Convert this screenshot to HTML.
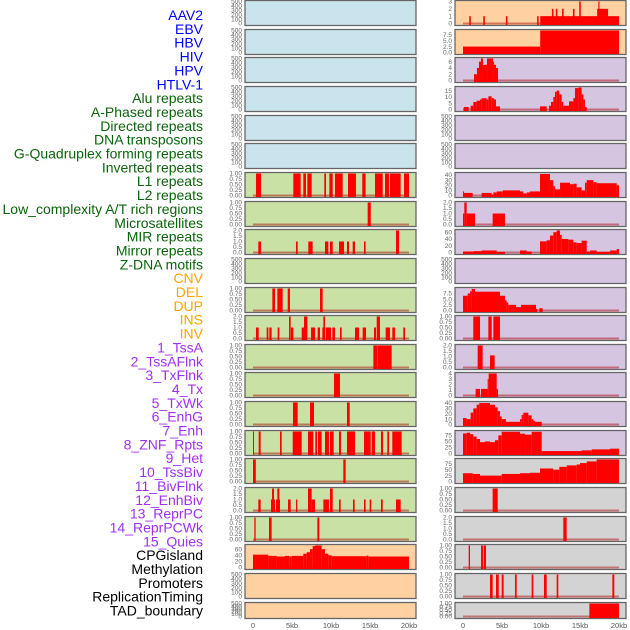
<!DOCTYPE html>
<html><head><meta charset="utf-8"><style>
html,body{margin:0;padding:0;background:#fff;width:630px;height:630px;overflow:hidden}
svg{display:block}
</style></head><body>
<svg id="chart" width="630" height="630" xmlns="http://www.w3.org/2000/svg"></svg>
<script>
const labels=["AAV2","EBV","HBV","HIV","HPV","HTLV-1","Alu repeats","A-Phased repeats","Directed repeats","DNA transposons","G-Quadruplex forming repeats","Inverted repeats","L1 repeats","L2 repeats","Low_complexity A/T rich regions","Microsatellites","MIR repeats","Mirror repeats","Z-DNA motifs","CNV","DEL","DUP","INS","INV","1_TssA","2_TssAFlnk","3_TxFlnk","4_Tx","5_TxWk","6_EnhG","7_Enh","8_ZNF_Rpts","9_Het","10_TssBiv","11_BivFlnk","12_EnhBiv","13_ReprPC","14_ReprPCWk","15_Quies","CPGisland","Methylation","Promoters","ReplicationTiming","TAD_boundary"];
const labelGroups=[0,0,0,0,0,0,1,1,1,1,1,1,1,1,1,1,1,1,1,2,2,2,2,2,3,3,3,3,3,3,3,3,3,3,3,3,3,3,3,4,4,4,4,4];
const xTicks=["0","5kb","10kb","15kb","20kb"];
const xTickVals=[0,5,10,15,20];
const E=["0","100","200","300","400","500"],B=["0.00","0.25","0.50","0.75","1.00"],T2=["0.0","0.5","1.0","1.5","2.0"];
const midTicks=[E,E,E,E,E,E,B,B,T2,E,B,T2,B,B,B,B,B,T2,B,["0","20","40","60"],E,E];
const midMax=[500,500,500,500,500,500,1,1,2,500,1,2,1,1,1,1,1,2,1,72,500,500];
const rightTicks=[["0","1","2","3"],["0.0","2.5","5.0","7.5"],["0","2","4","6"],["0","5","10","15"],E,E,["0","10","20","30","40"],T2,["0","20","40","60"],E,["0.0","2.5","5.0","7.5"],B,T2,["0","1","2","3","4"],["0","10","20","30","40"],["0","25","50","75"],["0","25","50","75"],B,T2,B,B,B];
const rightMax=[3,9.3,7,17.5,500,500,43,2,65,500,9.7,1,2,4,41,91,93,1,2,1,1,1];
const midBg=["b","b","b","b","b","b","g","g","g","g","g","g","g","g","g","g","g","g","g","o","o","o"];
const rightBg=["o","o","p","p","p","p","p","p","p","p","p","p","p","p","p","p","y","y","y","y","y","y"];
const midData=[[],[],[],[],[],[],
[[0.38,1.03,1],[5.17,6.11,1],[6.45,6.79,1],[6.97,7.52,1],[9.14,9.36,1],[9.79,10.22,1],[10.51,11.5,1],[12.18,13.2,1],[14.01,14.44,1],[15.64,16.63,1],[16.92,17.44,1],[17.56,18.93,1],[19.36,20,1]],
[[14.7,15.1,1]],
[[0.68,1.03,1],[5.51,5.73,1],[7.09,7.65,1],[9.23,9.66,1],[9.87,10.22,1],[11.03,11.67,1],[12.05,12.31,1],[12.78,13.08,1],[14.23,14.44,1],[18.33,18.72,2]],
[],
[[2.48,2.82,1],[3.12,3.8,1],[4.45,4.74,1],[8.59,8.93,1]],
[[0.38,0.73,1],[1.75,1.97,1],[2.09,2.39,1],[3.16,3.38,1],[4.62,4.83,2],[4.87,5.17,1],[6.24,6.54,1],[6.54,6.97,2],[7.44,7.95,1],[8.29,8.59,1],[8.89,9.1,1],[9.02,9.23,2],[9.32,10.0,1],[10.17,10.51,1],[11.15,11.37,1],[13.08,13.59,1],[14.06,14.49,1],[15.51,15.77,1],[15.86,16.28,2],[17.01,17.56,1],[17.86,18.2,1],[19.27,19.49,1]],
[[15.43,15.94,1],[15.98,17.78,1]],
[[10.38,11.15,1]],
[[5.13,5.73,1],[7.31,7.82,1],[12.05,12.4,1]],
[[0,0.13,1],[0.73,0.98,1],[3.46,3.68,1],[5.09,6.24,1],[7.05,7.74,1],[7.99,8.21,1],[8.33,8.8,1],[9.23,9.74,1],[9.87,10.34,1],[11.03,11.28,1],[12.05,13.08,1],[14.23,15.09,1],[15.21,15.64,1],[16.41,16.67,1],[17.22,17.44,1],[17.86,19.06,1]],
[[0,0.36,1],[11.58,11.88,1]],
[[0.68,0.98,1],[2.31,2.82,1],[2.44,2.69,2],[2.95,3.46,1],[3.12,3.38,2],[4.49,4.83,1],[5.51,5.68,1],[7.05,7.52,2],[7.52,7.95,1],[9.02,9.74,1],[9.87,10.22,2],[11.03,11.24,1],[12.82,13.03,1],[14.23,14.44,1],[14.96,15.17,1],[16.41,16.63,1],[18.33,18.93,1]],
[[0.17,0.34,1],[2.05,2.39,1],[8.25,8.5,1]],
[[0,1.97,42],[1.97,3.03,38],[3.03,4.1,36],[4.1,4.66,38],[4.66,4.96,36],[4.96,6.45,38],[6.45,6.88,45],[6.88,7.31,50],[7.31,7.65,60],[7.65,7.95,70],[7.95,8.8,72],[8.8,9.23,60],[9.23,9.66,45],[9.66,10.09,40],[10.09,14.57,37],[14.57,14.79,39],[14.79,20,36]],
[],[]];
const rightData=[
[[0.8,1.0,1],[2.6,2.8,1],[5.5,5.7,1],[9.5,9.7,1],[9.9,20,1],[11.4,11.6,2],[11.9,12.1,2],[12.7,12.9,2],[14.1,14.3,2],[14.9,15.1,3],[17.2,18.6,2],[17.35,17.5,3]],
[[0,9.9,2.5],[9.9,20,9.3]],
[[1.41,1.79,2],[1.79,2.05,4],[2.05,2.31,6],[2.31,2.56,7],[2.56,3.08,5],[3.08,3.85,7],[3.85,3.97,6],[3.97,4.23,5],[4.23,4.49,4]],
[[0.09,0.73,2],[0.98,1.32,3],[1.32,1.75,6],[1.75,2.18,7],[2.18,2.39,8],[2.39,3.03,9],[3.03,3.25,8],[3.25,3.68,10.5],[3.68,3.97,9],[3.97,4.23,8],[4.23,4.74,2.5],[9.87,10.73,2.5],[11.03,11.28,3],[11.28,11.58,6],[11.58,11.79,10],[11.79,12.01,14],[12.01,12.35,15],[12.35,12.65,12],[12.65,12.86,6],[12.86,13.59,3],[13.59,14.15,6.5],[14.15,14.36,9],[14.36,14.79,17],[14.79,15.21,17.5],[15.21,15.43,12],[15.43,15.64,8],[15.64,15.86,2]],
[],[],
[[0,0.04,8],[0.04,1.24,5],[2.39,3.68,5],[3.68,3.89,2],[3.89,4.32,6],[4.32,5.09,8],[5.09,7.31,10],[7.31,7.74,8],[7.74,8.16,4],[8.16,8.59,6],[8.59,9.87,8],[9.87,11.15,42],[11.15,11.58,30],[11.58,11.79,18],[11.79,12.44,12],[12.44,13.72,25],[13.72,14.15,22],[14.15,14.57,23],[14.57,15.21,16],[15.21,15.64,10],[15.64,15.86,25],[15.86,16.71,30],[16.71,17.14,26],[17.14,19.7,24],[19.7,20,20]],
[[0,0.17,1],[0.17,0.47,2],[0.47,1.54,1],[3.8,5.38,1]],
[[0,1.32,3],[1.32,2.39,4],[2.39,4.32,6],[4.32,5.38,2],[7.31,8.16,6],[8.16,8.8,3],[9.87,10.73,33],[10.73,11.15,36],[11.15,11.58,50],[11.58,12.01,60],[12.01,12.44,65],[12.44,12.65,52],[12.65,13.5,40],[13.5,14.15,38],[14.15,14.57,30],[14.57,15.21,28],[15.21,15.86,35],[15.86,16.28,3],[16.28,17.14,6],[17.14,18.85,2],[18.85,19.7,6],[19.7,20,10]],
[],
[[0,0.6,6.5],[0.6,0.9,7.5],[0.9,1.11,8.5],[1.11,1.54,9.5],[1.54,4.74,8.3],[4.74,5.38,6.5],[5.38,5.6,4.5],[5.6,5.81,3.5],[5.81,6.79,2.5],[6.79,7.44,1.5],[7.44,9.36,2.5],[9.36,9.53,0.7],[9.79,10.21,1]],
[[1.32,2.18,1],[3.25,3.68,1],[3.89,4.74,1]],
[[1.88,2.52,2],[3.46,4.06,1.1]],
[[1.62,2.18,1.2],[2.31,3.16,1.2],[3.16,3.29,3],[3.29,4.32,4],[4.32,4.49,1.2]],
[[0,0.47,12],[0.47,0.98,10],[0.98,1.32,22],[1.32,1.75,30],[1.75,2.09,37],[2.09,3.46,40],[3.46,4.1,37],[4.1,4.45,32],[4.45,4.74,25],[4.74,4.96,15],[4.96,5.51,10],[5.51,7.31,5],[7.31,7.52,10],[7.52,7.74,18],[7.74,8.38,22],[8.38,8.8,17],[8.8,9.02,10],[9.02,9.23,7],[9.23,10.09,5]],
[[0,0.47,83],[0.47,0.9,86],[0.9,1.32,80],[1.32,1.75,70],[1.75,2.18,60],[2.18,2.82,47],[2.82,3.46,50],[3.46,4.1,47],[4.1,4.53,55],[4.53,4.96,75],[4.96,7.31,90],[7.31,7.95,82],[7.95,8.8,78],[8.8,10.09,90],[10.09,15.21,10],[15.21,16.5,13],[16.5,18.85,17],[18.85,20,20]],
[[0,1.24,35],[1.24,2.18,32],[2.18,4.96,25],[4.96,7.31,32],[7.31,8.59,35],[8.59,9.87,37],[9.87,11.58,55],[11.58,12.35,50],[12.35,13.29,62],[13.29,14.57,68],[14.57,15.0,72],[15.0,15.86,78],[15.86,17.14,85],[17.14,20,93]],
[[3.8,4.45,1]],
[[12.86,13.29,2]],
[[0.73,0.9,1],[2.31,2.56,1],[2.65,2.95,1]],
[[3.46,3.8,1],[4.23,4.58,1],[4.96,5.21,1],[6.67,6.88,1],[8.8,9.02,1],[10.38,10.73,1],[12.01,12.22,1],[19.15,19.4,1]],
[[16.2,20,1]]];

const NS="http://www.w3.org/2000/svg";
const svg=document.getElementById("chart");
const bgColors={b:"#c9e4ec",g:"#c9e1a5",o:"#ffd1a1",p:"#d5c5e1",y:"#d3d3d3"};
const labelColors=["#0000ff","#0a640a","#ffa500","#a030f0","#000000"];
function mk(tag,attrs){const e=document.createElementNS(NS,tag);for(const k in attrs)e.setAttribute(k,attrs[k]);svg.appendChild(e);return e;}
function rowTop(i){return Math.round(i*28.65);}
function rowH(i){return i===21?16:25;}
function xs(col,kb){return (col===0?253:463)+kb*7.8;}

labels.forEach((t,i)=>{
  const e=mk("text",{x:203,y:15+i*13.85+5,"text-anchor":"end","font-family":"Liberation Sans, sans-serif","font-size":"14",fill:labelColors[labelGroups[i]]});
  e.textContent=t;
  
  
});

function panel(col,i,bg,ticks,ymax,data){
  const left=col===0?245:455,w=171,top=rowTop(i),h=rowH(i);
  const r=mk("rect",{x:left,y:top+0.5,width:w,height:h,fill:bgColors[bg],stroke:"#666","stroke-width":1.3});
  
  
  const y0=top+h-1.5, span=h-3;
  const ys=v=>y0-v/ymax*span;
  ticks.forEach(t=>{
    const tx=mk("text",{x:left-3,y:ys(parseFloat(t))+2.2,"text-anchor":"end","font-family":"Liberation Sans, sans-serif","font-size":"6.5",fill:"#666"});
    tx.textContent=t;
    
    
  });
  if(data.length){
    const bl=mk("line",{x1:xs(col,0),x2:xs(col,20),y1:y0,y2:y0,stroke:"rgba(170,0,0,0.45)","stroke-width":2});
    
    
  }
  data.forEach(d=>{
    const x1=xs(col,d[0]),x2=xs(col,d[1]),yv=Math.max(top+1,ys(d[2]));
    const b=mk("rect",{x:x1,y:yv,width:Math.max(1,x2-x1),height:top+h-yv,fill:"#ff0000"});
    
    
  });
}
for(let i=0;i<22;i++){
  panel(0,i,midBg[i],midTicks[i],midMax[i],midData[i]);
  panel(1,i,rightBg[i],rightTicks[i],rightMax[i],rightData[i]);
}
[0,1].forEach(col=>{
  xTickVals.forEach((v,j)=>{
    const t=mk("text",{x:xs(col,v),y:628,"text-anchor":"middle","font-family":"Liberation Sans, sans-serif","font-size":"7.5",fill:"#555"});
    t.textContent=xTicks[j];
    
    
  });
});
</script>
</body></html>
